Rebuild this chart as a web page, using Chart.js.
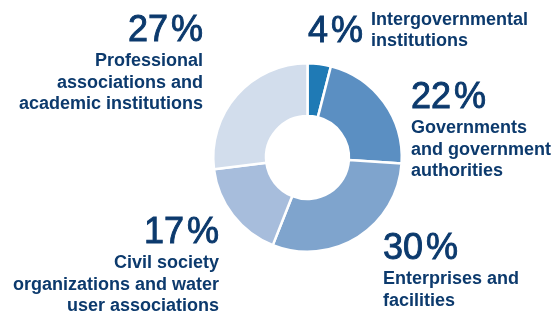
<!DOCTYPE html>
<html>
<head>
<meta charset="utf-8">
<script src="https://cdn.jsdelivr.net/npm/chart.js@4/dist/chart.umd.min.js"></script>
<style>
  html, body { margin: 0; padding: 0; background: #fff; }
  #wrap { width: 558px; height: 311px; position: relative; }
</style>
</head>
<body>
<div id="wrap"><canvas id="shareChart" width="558" height="311"></canvas></div>
<script>
// data
const categories = [
  ["Intergovernmental", "institutions"],
  ["Governments", "and government", "authorities"],
  ["Enterprises and", "facilities"],
  ["Civil society", "organizations and water", "user associations"],
  ["Professional", "associations and", "academic institutions"]
];
const shares = [4, 22, 30, 17, 27];
const sliceColors = ["#1f7ab5", "#5b8fc2", "#7fa4cd", "#a7bddc", "#d2ddec"];

// label anchors: x/y of percent baseline, alignment; 4% has its text beside it
const labelLayout = [
  { x: 308, y: 42, align: "left", inline: true },
  { x: 411, y: 108, align: "left" },
  { x: 383, y: 259, align: "left" },
  { x: 219, y: 243, align: "right" },
  { x: 203, y: 41, align: "right" }
];

const navy = "#0c3a6d";
const pctFont = "36px 'Liberation Sans', Arial, sans-serif";
const txtFont = "bold 18px 'Liberation Sans', Arial, sans-serif";

const labelPlugin = {
  id: "sliceLabels",
  afterDraw(chart) {
    const ctx = chart.ctx;
    ctx.save();
    ctx.fillStyle = navy;
    ctx.strokeStyle = navy;
    ctx.lineWidth = 0.9;
    ctx.textBaseline = "alphabetic";
    shares.forEach((v, i) => {
      const L = labelLayout[i];
      ctx.font = pctFont;
      const num = String(v);
      const gap = 3;
      const wNum = ctx.measureText(num).width;
      const wPct = ctx.measureText("%").width;
      const total = wNum + gap + wPct;
      const left = L.align === "left" ? L.x : L.x - total;
      ctx.textAlign = "left";
      // slightly heavier than regular, like the print figure
      ctx.fillText(num, left, L.y);
      ctx.strokeText(num, left, L.y);
      ctx.fillText("%", left + wNum + gap, L.y);
      ctx.strokeText("%", left + wNum + gap, L.y);

      ctx.font = txtFont;
      if (L.inline) {
        categories[i].forEach((line, k) => {
          ctx.fillText(line, left + total + 8, 25 + k * 21);
        });
      } else {
        ctx.textAlign = L.align;
        categories[i].forEach((line, k) => {
          ctx.fillText(line, L.x, L.y + 25 + k * 21.5);
        });
      }
    });
    ctx.restore();
  }
};

new Chart(document.getElementById("shareChart"), {
  type: "doughnut",
  data: {
    labels: categories.map(c => c.join(" ")),
    datasets: [{
      data: shares,
      backgroundColor: sliceColors,
      borderColor: "#ffffff",
      borderWidth: 2.5
    }]
  },
  options: {
    responsive: false,
    animation: false,
    cutout: "44%",
    layout: { padding: { left: 212, right: 155, top: 62, bottom: 58 } },
    plugins: {
      legend: { display: false },
      tooltip: { enabled: false }
    }
  },
  plugins: [labelPlugin]
});
</script>
</body>
</html>
